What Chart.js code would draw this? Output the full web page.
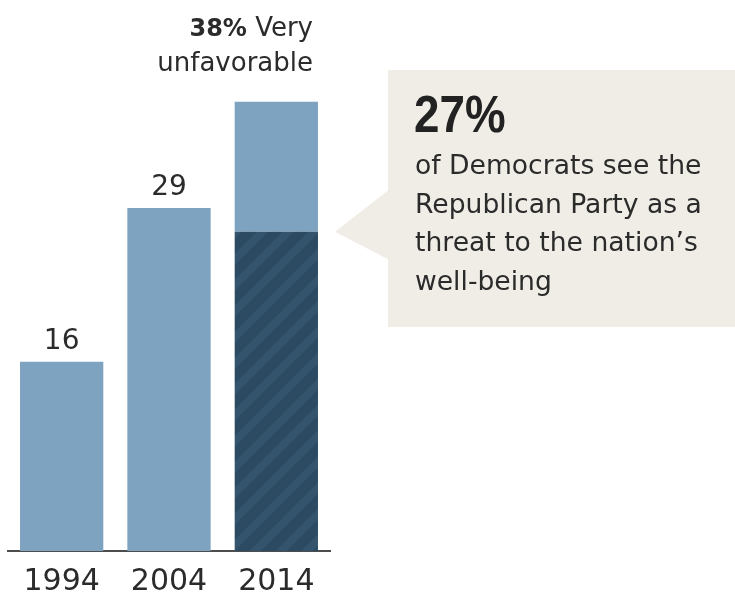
<!DOCTYPE html>
<html>
<head>
<meta charset="utf-8">
<style>
  html, body { margin: 0; padding: 0; background: #fff; }
  canvas { display: block; }
</style>
<script src="https://cdn.jsdelivr.net/npm/chart.js@4.4.1/dist/chart.umd.min.js"></script>
</head>
<body>
<canvas id="myChart" width="735" height="593"></canvas>
<script>
const years = ["1994", "2004", "2014"];
const veryUnfavorable = [16, 29, 38];
const seeThreat = [0, 0, 27];
const calloutHead = "27%";
const calloutLines = [
  "of Democrats see the",
  "Republican Party as a",
  "threat to the nation\u2019s",
  "well-being",
];

const lightBlue = "#7ea3c1";
const darkBlue = "#2c4b63";
const stripeBlue = "#33546c";
const textColor = "#2b2b2b";
const sans = "'DejaVu Sans', sans-serif";

// rest of the bar above the threat share
const restValues = veryUnfavorable.map((v, i) => v - seeThreat[i]);

const makeStripes = () => {
  const s = 26;
  const tile = document.createElement("canvas");
  tile.width = s;
  tile.height = s;
  const t = tile.getContext("2d");
  t.fillStyle = darkBlue;
  t.fillRect(0, 0, s, s);
  t.strokeStyle = stripeBlue;
  t.lineWidth = 8;
  t.beginPath();
  t.moveTo(-4, s + 4);
  t.lineTo(s + 4, -4);
  t.moveTo(-4, 4);
  t.lineTo(4, -4);
  t.moveTo(s - 4, s + 4);
  t.lineTo(s + 4, s - 4);
  t.stroke();
  return t.createPattern(tile, "repeat");
};

const annotations = {
  id: "annotations",
  beforeDatasetsDraw(chart) {
    const ctx = chart.ctx;
    const threatMeta = chart.getDatasetMeta(0);
    const idx = seeThreat.findIndex((v) => v > 0);
    const bar = threatMeta.data[idx];
    const right = bar.x + bar.width / 2;

    // callout box with pointer to the striped segment
    const boxLeft = 388;
    ctx.save();
    ctx.fillStyle = "#efede6";
    ctx.fillRect(boxLeft, 70, chart.width - boxLeft, 257);
    ctx.beginPath();
    ctx.moveTo(right + 17, bar.y);
    ctx.lineTo(boxLeft + 1, bar.y - 42);
    ctx.lineTo(boxLeft + 1, bar.y + 28);
    ctx.closePath();
    ctx.fill();
    ctx.restore();
  },
  afterDraw(chart) {
    const ctx = chart.ctx;
    const restMeta = chart.getDatasetMeta(1);
    ctx.save();
    ctx.fillStyle = textColor;
    ctx.textBaseline = "alphabetic";

    restMeta.data.forEach((bar, i) => {
      if (i < years.length - 1) {
        ctx.font = "28px " + sans;
        ctx.textAlign = "center";
        ctx.fillText(String(veryUnfavorable[i]), bar.x, bar.y - 13);
      } else {
        const r = bar.x + bar.width / 2 - 5;
        ctx.textAlign = "right";
        ctx.font = "26px " + sans;
        ctx.fillText("unfavorable", r, bar.y - 31);
        const veryW = ctx.measureText(" Very").width;
        ctx.fillText(" Very", r, bar.y - 66);
        ctx.font = "bold 24px " + sans;
        ctx.fillText(veryUnfavorable[i] + "%", r - veryW, bar.y - 66);
      }
    });

    // callout text
    ctx.textAlign = "left";
    ctx.save();
    ctx.translate(414, 132);
    ctx.scale(0.88, 1);
    ctx.font = "bold 52px 'Liberation Sans', Arial, sans-serif";
    ctx.fillStyle = "#222";
    ctx.fillText(calloutHead, 0, 0);
    ctx.restore();

    ctx.font = "26.6px " + sans;
    calloutLines.forEach((line, i) => {
      ctx.fillText(line, 415, 174 + i * 38.5);
    });
    ctx.restore();
  },
};

const ctx = document.getElementById("myChart");
new Chart(ctx, {
  type: "bar",
  data: {
    labels: years,
    datasets: [
      {
        label: "Threat",
        data: seeThreat,
        backgroundColor: makeStripes(),
        categoryPercentage: 1,
        barPercentage: 0.776,
      },
      {
        label: "Very unfavorable",
        data: restValues,
        backgroundColor: lightBlue,
        categoryPercentage: 1,
        barPercentage: 0.776,
      },
    ],
  },
  options: {
    responsive: false,
    animation: false,
    devicePixelRatio: 1,
    layout: {
      padding: { left: 8, right: 405, top: 0, bottom: -21 },
    },
    plugins: {
      legend: { display: false },
      tooltip: { enabled: false },
    },
    scales: {
      x: {
        stacked: true,
        grid: { display: false, drawTicks: false },
        border: { display: true, color: "#4d4d4d", width: 2 },
        ticks: {
          color: textColor,
          padding: 21,
          font: { family: "DejaVu Sans", size: 30, lineHeight: 0.7 },
        },
      },
      y: {
        stacked: true,
        display: false,
        min: 0,
        max: 46.6,
      },
    },
  },
  plugins: [annotations],
});
</script>
</body>
</html>
